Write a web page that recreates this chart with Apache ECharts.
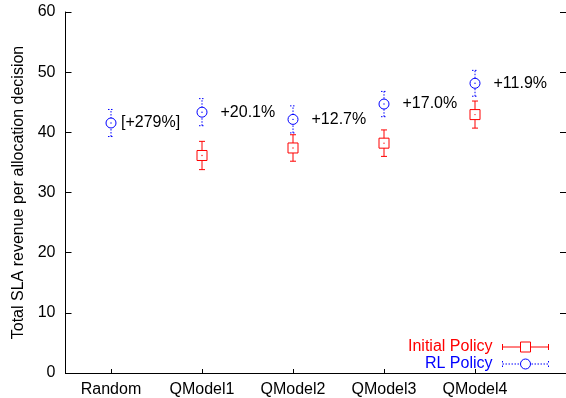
<!DOCTYPE html>
<html>
<head>
<meta charset="utf-8">
<script src="https://cdn.jsdelivr.net/npm/echarts@6/dist/echarts.min.js"></script>
<style>
  html, body { margin: 0; padding: 0; background: #fff; }
  #vis { width: 566px; height: 398px; }
</style>
</head>
<body>
<div id="vis"></div>
<script>
// values
const categories = ["Random", "QModel1", "QModel2", "QModel3", "QModel4"];
const initialMean = [null, 36.15, 37.4, 38.2, 42.95];
const initialErr = [null, 2.35, 2.2, 2.2, 2.25];
const rlMean = [41.55, 43.35, 42.15, 44.7, 48.15];
const rlErr = [2.25, 2.25, 2.25, 2.1, 2.15];
const gainLabels = ["[+279%]", "+20.1%", "+12.7%", "+17.0%", "+11.9%"];
const yTicks = [0, 10, 20, 30, 40, 50, 60];

const FONT = "'Liberation Sans', Arial, Helvetica, sans-serif";
const RED = "#ff0000";
const BLUE = "#0000ff";

const vis = document.getElementById("vis");
const chart = echarts.init(vis, null, { renderer: "canvas" });

function toData(means, errs) {
  const out = [];
  means.forEach((m, i) => {
    if (m == null) return;
    out.push([i + 1, m, m - errs[i], m + errs[i], i]);
  });
  return out;
}

// error bar + hollow marker drawn in pixel space from the axis scale
function makeRenderer(color, dashed, shape, withLabel) {
  return function (params, api) {
    const x = api.value(0);
    const c = api.coord([x, api.value(1)]);
    const lo = api.coord([x, api.value(2)]);
    const hi = api.coord([x, api.value(3)]);
    const idx = api.value(4);
    const lineStyle = { stroke: color, lineWidth: 1, lineDash: dashed ? [1.5, 1.5] : null };
    const cap = 3;
    const children = [
      { type: "line", shape: { x1: c[0], y1: lo[1], x2: c[0], y2: hi[1] }, style: lineStyle },
      { type: "line", shape: { x1: c[0] - cap, y1: lo[1], x2: c[0] + cap, y2: lo[1] }, style: lineStyle },
      { type: "line", shape: { x1: c[0] - cap, y1: hi[1], x2: c[0] + cap, y2: hi[1] }, style: lineStyle }
    ];
    if (shape === "rect") {
      children.push({ type: "rect", shape: { x: c[0] - 5, y: c[1] - 5, width: 10, height: 10 },
        style: { fill: "#fff", stroke: color, lineWidth: 1 } });
    } else {
      children.push({ type: "circle", shape: { cx: c[0], cy: c[1], r: 5 },
        style: { fill: "#fff", stroke: color, lineWidth: 1 } });
    }
    children.push({ type: "circle", shape: { cx: c[0], cy: c[1], r: 0.7 }, style: { fill: color } });
    if (withLabel) {
      children.push({
        type: "text",
        style: {
          x: c[0] + (idx === 0 ? 10 : 18.5), y: c[1],
          text: gainLabels[idx], fill: "#000",
          font: "16px " + FONT, verticalAlign: "middle", align: "left"
        }
      });
    }
    return { type: "group", children: children };
  };
}

// legend sample paths (46x10 box)
function dottedH(x0, x1, y) {
  let p = "";
  for (let x = x0; x < x1; x += 3) p += `M${x},${y}H${Math.min(x + 1.5, x1)}`;
  return p;
}
const initialIcon = "path://M0,5H18M28,5H46M0,2V8M46,2V8M18,0H28V10H18Z";
const rlIcon = "path://" + dottedH(0, 18, 5) + dottedH(29, 46, 5) +
  "M0,2V3.5M0,6.5V8M46,2V3.5M46,6.5V8" +
  "M28,5A5,5 0 1 1 18,5A5,5 0 1 1 28,5Z";

const axisBase = {
  type: "value",
  min: 0.5,
  max: 6,
  splitLine: { show: false },
  axisLine: { show: true, lineStyle: { color: "#000", width: 1 } }
};

const options = {
  animation: false,
  backgroundColor: "#fff",
  textStyle: { fontFamily: FONT },
  grid: { left: 65.5, top: 12, width: 503.5, height: 363, containLabel: false },
  legend: {
    orient: "vertical",
    right: 17,
    top: 339,
    padding: 0,
    align: "right",
    itemWidth: 46,
    itemHeight: 10,
    itemGap: 1,
    textStyle: { fontSize: 16, fontFamily: FONT, lineHeight: 16, padding: [0, 5, 0, 0] },
    data: [
      { name: "Initial Policy", icon: initialIcon,
        itemStyle: { color: "transparent", borderColor: RED, borderWidth: 1 },
        textStyle: { color: RED } },
      { name: "RL Policy", icon: rlIcon,
        itemStyle: { color: "transparent", borderColor: BLUE, borderWidth: 1 },
        textStyle: { color: BLUE } }
    ]
  },
  xAxis: [
    Object.assign({}, axisBase, {
      position: "bottom",
      axisTick: { show: true, inside: true, length: 4, customValues: [1, 2, 3, 4, 5],
        lineStyle: { color: "#000" } },
      axisLabel: { show: true, customValues: [1, 2, 3, 4, 5], margin: 9,
        fontSize: 16, color: "#000", fontFamily: FONT,
        formatter: v => categories[Math.round(v) - 1] || "" }
    }),
    Object.assign({}, axisBase, {
      position: "top",
      axisTick: { show: false },
      axisLabel: { show: false }
    })
  ],
  yAxis: [
    {
      type: "value", min: 0, max: 60, interval: 10, position: "left",
      name: "Total SLA revenue per allocation decision",
      nameLocation: "middle", nameGap: 39,
      nameTextStyle: { fontSize: 16, color: "#000", fontFamily: FONT },
      splitLine: { show: false },
      axisLine: { show: true, lineStyle: { color: "#000", width: 1 } },
      axisTick: { show: true, inside: true, length: 6, lineStyle: { color: "#000" } },
      axisLabel: { margin: 10, fontSize: 16, color: "#000", fontFamily: FONT,
        formatter: v => (yTicks.includes(v) ? String(v) : "") }
    },
    {
      type: "value", min: 0, max: 60, interval: 10, position: "right",
      splitLine: { show: false },
      axisLine: { show: true, lineStyle: { color: "#000", width: 1 } },
      axisTick: { show: true, inside: true, length: 6, lineStyle: { color: "#000" } },
      axisLabel: { show: false }
    }
  ],
  series: [
    {
      name: "Initial Policy",
      type: "custom",
      color: RED,
      xAxisIndex: 0, yAxisIndex: 0,
      renderItem: makeRenderer(RED, false, "rect", false),
      data: toData(initialMean, initialErr)
    },
    {
      name: "RL Policy",
      type: "custom",
      color: BLUE,
      xAxisIndex: 0, yAxisIndex: 0,
      renderItem: makeRenderer(BLUE, true, "circle", true),
      data: toData(rlMean, rlErr)
    }
  ]
};

chart.setOption(options);
</script>
</body>
</html>
